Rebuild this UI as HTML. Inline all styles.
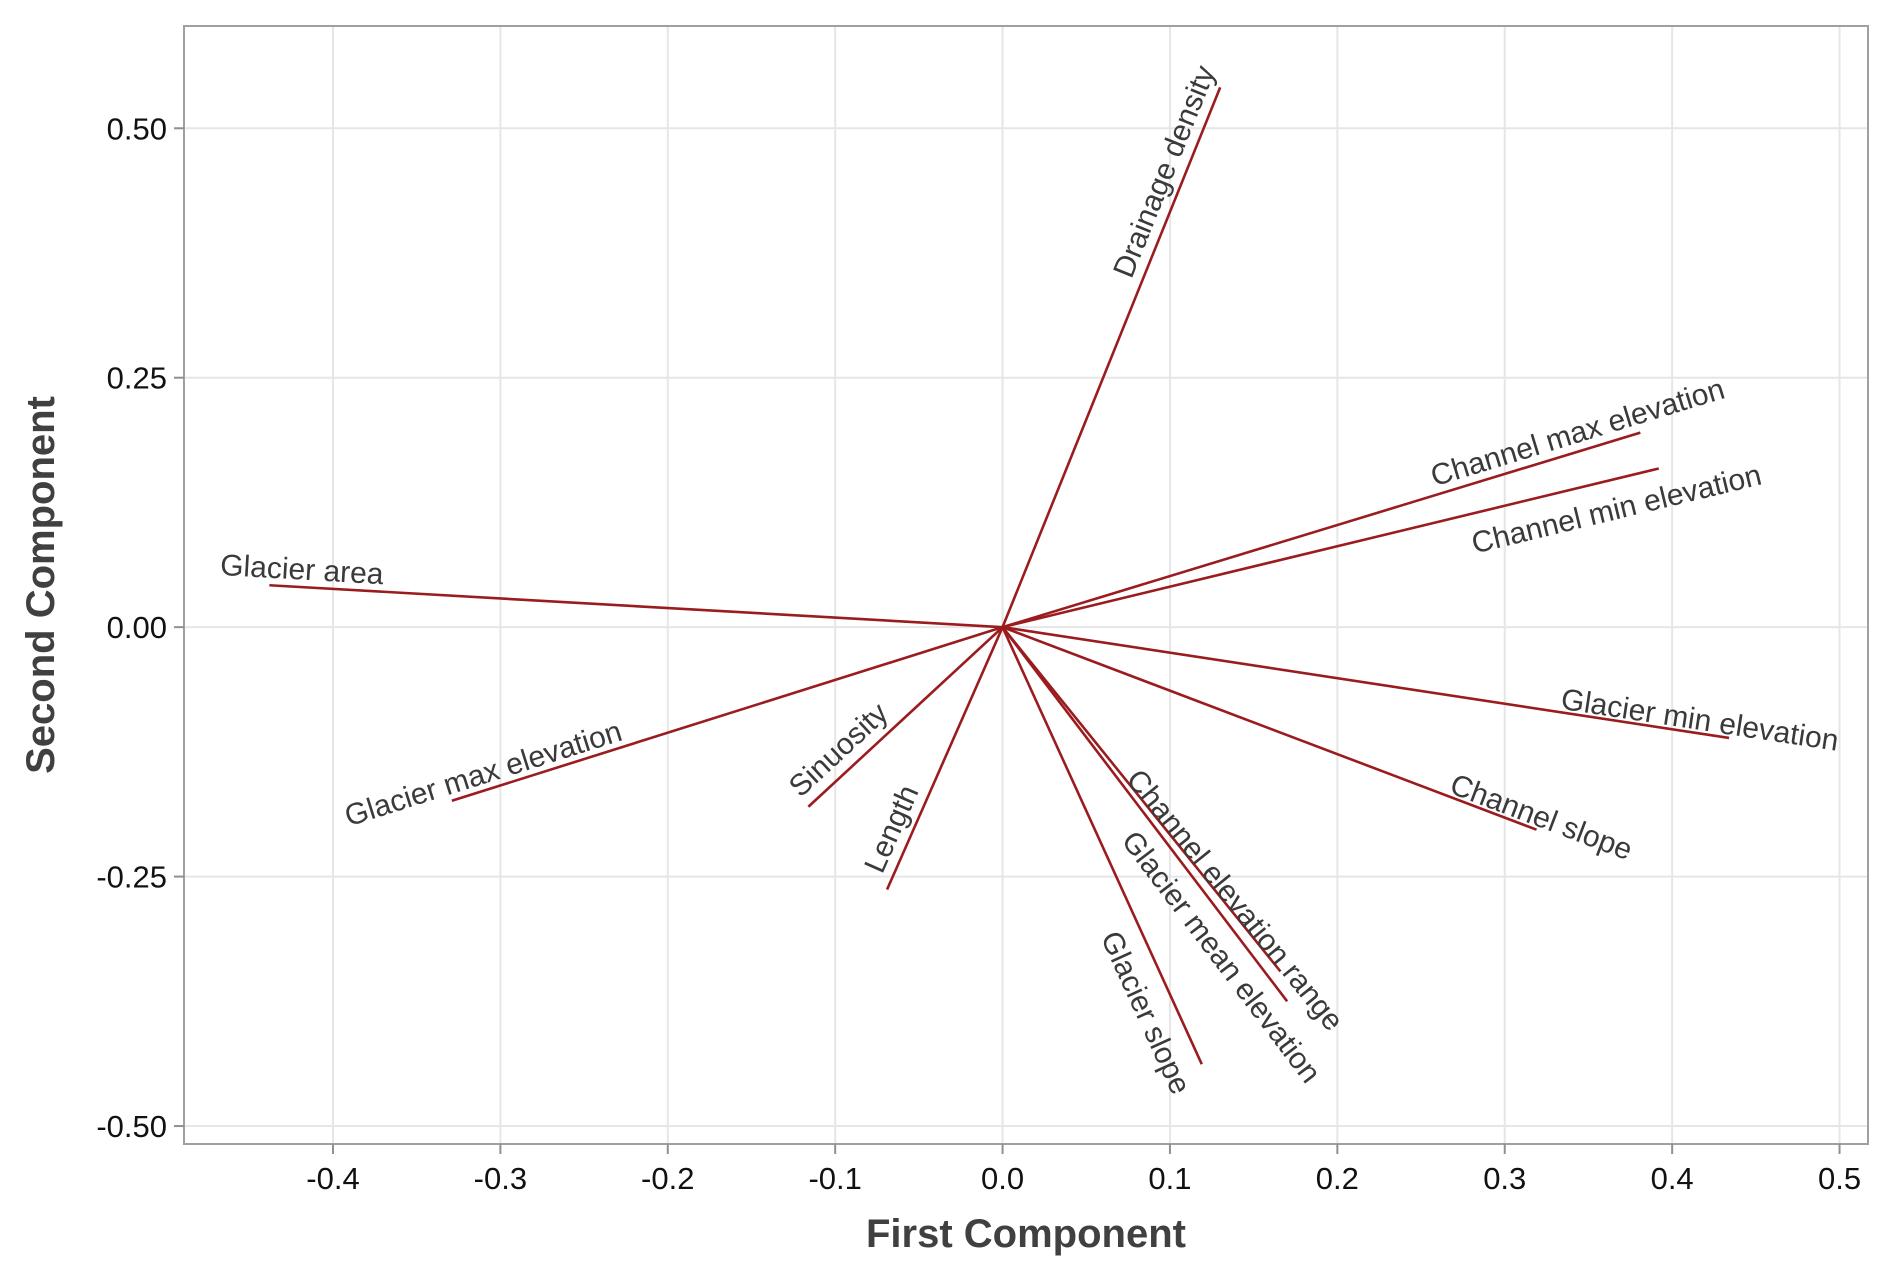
<!DOCTYPE html>
<html><head><meta charset="utf-8"><style>
body{margin:0;background:#fff}
svg{display:block}
text{font-family:"Liberation Sans","DejaVu Sans",sans-serif}
</style></head><body>
<svg id="chart" width="1892" height="1280" viewBox="0 0 1892 1280" xmlns="http://www.w3.org/2000/svg">
<g id="grid"></g>
<rect x="184" y="26" width="1684" height="1118" fill="none" stroke="#a0a0a0" stroke-width="2"/>
<g id="axes"></g>
<g id="vectors"></g>
<text x="1026" y="1247" text-anchor="middle" font-size="40" font-weight="bold" fill="#404040">First Component</text>
<text transform="translate(54,585) rotate(-90)" text-anchor="middle" font-size="40" font-weight="bold" fill="#404040">Second Component</text>
</svg>
<script>
const variables = ["Drainage density","Channel max elevation","Channel min elevation","Glacier area","Glacier min elevation","Channel slope","Channel elevation range","Glacier mean elevation","Glacier slope","Length","Sinuosity","Glacier max elevation"];
const pc1 = [0.130,0.381,0.392,-0.438,0.434,0.319,0.166,0.170,0.119,-0.069,-0.116,-0.329];
const pc2 = [0.541,0.195,0.159,0.042,-0.111,-0.203,-0.345,-0.375,-0.438,-0.263,-0.180,-0.174];
const xTicks = [-0.4,-0.3,-0.2,-0.1,0.0,0.1,0.2,0.3,0.4,0.5];
const xTickLabels = ["-0.4","-0.3","-0.2","-0.1","0.0","0.1","0.2","0.3","0.4","0.5"];
const yTicks = [0.5,0.25,0,-0.25,-0.5];
const yTickLabels = ["0.50","0.25","0.00","-0.25","-0.50"];
// label placement: fraction along vector, perpendicular offset (px)
const labelT = [0.83,0.91,0.925,0.957,0.957,1.0,0.81,0.84,0.854,0.80,0.77,0.934];
const labelOff = [20,18,-30,17,13,13,9,-26,-30,20,21,16];

const X0=184,X1=1868,Y0=26,Y1=1144;
const xMin=-0.4890,xMax=0.5170,yMin=-0.5180,yMax=0.6025;
const sx=v=>X0+(v-xMin)/(xMax-xMin)*(X1-X0);
const sy=v=>Y1-(v-yMin)/(yMax-yMin)*(Y1-Y0);
const NS="http://www.w3.org/2000/svg";
function mk(tag,attrs,parent,txt){const e=document.createElementNS(NS,tag);for(const k in attrs)e.setAttribute(k,attrs[k]);if(txt!==undefined)e.textContent=txt;parent.appendChild(e);return e;}
const grid=document.getElementById('grid'),axes=document.getElementById('axes'),vec=document.getElementById('vectors');
xTicks.forEach((v,i)=>{
  const x=sx(v);
  const g=mk('line',{x1:x,x2:x,y1:Y0,y2:Y1,stroke:'#e6e6e6','stroke-width':2},grid);
  
  
  const t=mk('line',{x1:x,x2:x,y1:Y1,y2:Y1+10,stroke:'#909090','stroke-width':2},axes);
  
  
  const l=mk('text',{x:x,y:1189,'text-anchor':'middle','font-size':31,fill:'#111'},axes,xTickLabels[i]);
  
  
});
yTicks.forEach((v,i)=>{
  const y=sy(v);
  const g=mk('line',{x1:X0,x2:X1,y1:y,y2:y,stroke:'#e6e6e6','stroke-width':2},grid);
  
  
  const t=mk('line',{x1:X0-10,x2:X0,y1:y,y2:y,stroke:'#909090','stroke-width':2},axes);
  
  
  const l=mk('text',{x:167,y:y+11,'text-anchor':'end','font-size':31,fill:'#111'},axes,yTickLabels[i]);
  
  
});
const ox=sx(0),oy=sy(0);
variables.forEach((name,i)=>{
  const ex=sx(pc1[i]),ey=sy(pc2[i]);
  const ln=mk('line',{x1:ox,y1:oy,x2:ex,y2:ey,stroke:'#9b1c1f','stroke-width':2.6},vec);
  
  
  let dx=ex-ox,dy=ey-oy;const len=Math.hypot(dx,dy);
  let ux=dx/len,uy=dy/len;
  if(ux<0){ux=-ux;uy=-uy;}
  const ang=Math.atan2(uy,ux)*180/Math.PI;
  const upx=uy,upy=-ux;
  const cx=ox+labelT[i]*dx+labelOff[i]*upx, cy=oy+labelT[i]*dy+labelOff[i]*upy;
  const tx=mk('text',{transform:`translate(${cx},${cy}) rotate(${ang})`,'text-anchor':'middle','dominant-baseline':'central','font-size':30,fill:'#3a3a3a'},vec,name);
  
  
});
</script>
</body></html>
